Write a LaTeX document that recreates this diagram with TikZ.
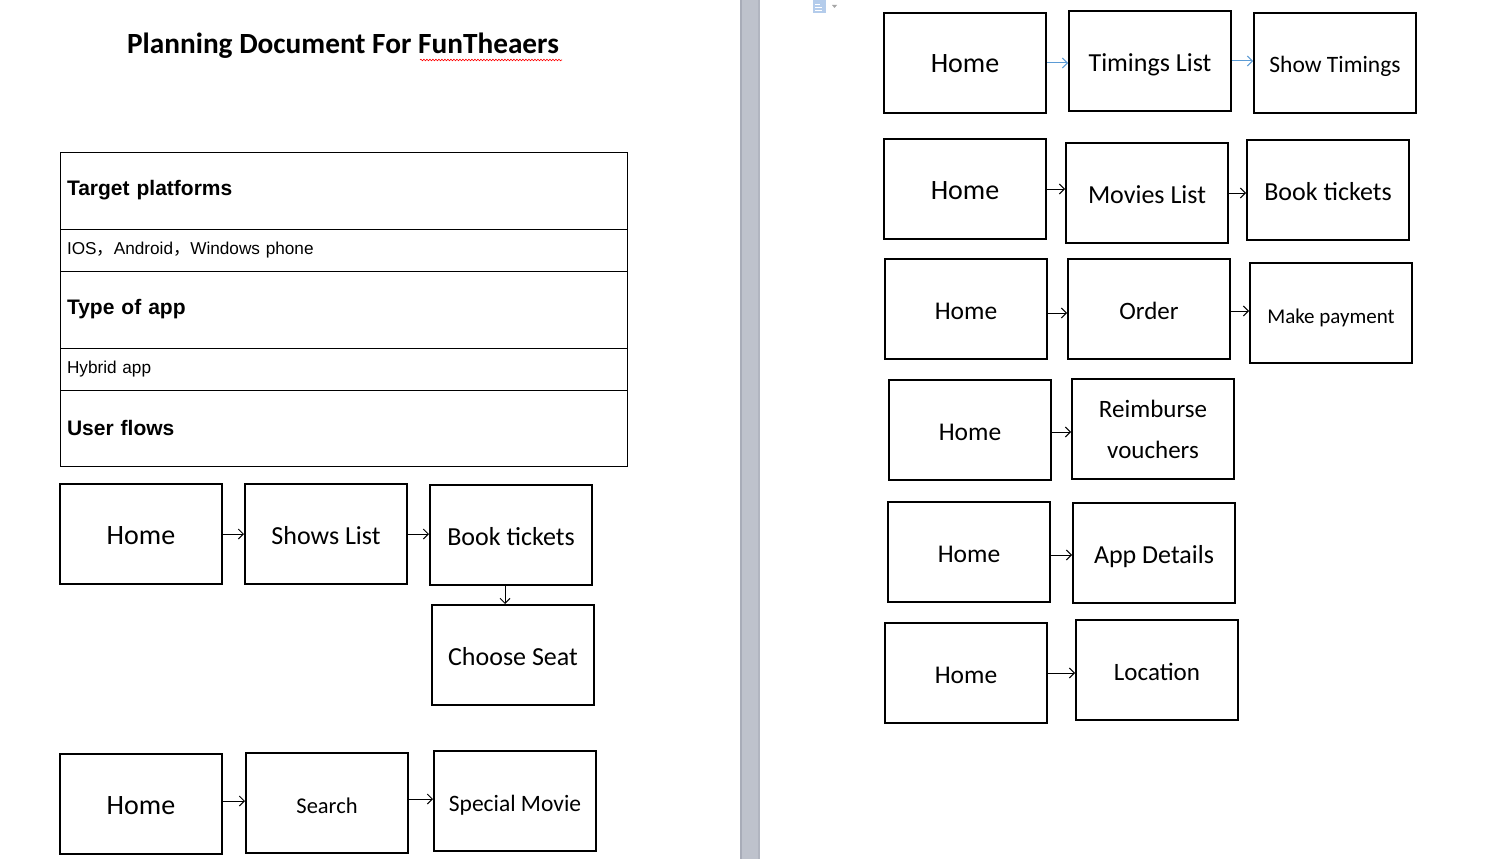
\documentclass[tikz,border=0pt]{standalone}
\usepackage{fontspec}
\setmainfont{Carlito}
\newfontfamily\arialf{Liberation Sans}
\newfontfamily\cjkf{Noto Sans CJK SC}
\usetikzlibrary{arrows.meta,decorations.pathmorphing}
\newcommand\fsz[1]{\fontsize{#1}{#1}\selectfont}
\definecolor{barcol}{RGB}{190,194,204}
\definecolor{bardark}{RGB}{168,172,184}
\definecolor{iconblue}{RGB}{180,204,235}
\definecolor{arrblue}{RGB}{91,155,213}
\tikzset{
  boxbase/.style={draw, line width=2pt, minimum width=162pt, minimum height=100pt, inner sep=0pt, font=\fsz{26}},
  box/.style={boxbase, text height=20pt, text depth=0pt},
  trow/.style={draw, line width=0.9pt, outer sep=0pt, minimum width=567pt, text width=553pt, inner xsep=7pt, inner ysep=0pt, align=left, anchor=north west},
  arr/.style={line width=1pt, -{Straight Barb[length=5pt,width=10pt]}},
  barr/.style={arr, arrblue}
}
\begin{document}
\begin{tikzpicture}[x=1pt,y=-1pt]
\useasboundingbox (0,0) rectangle (1492,859);
\fill[white] (0,0) rectangle (1492,859);
% page separator
\fill[barcol] (740,0) rectangle (760,859);
\fill[bardark] (740,0) rectangle (742,859);
\fill[bardark!60!barcol] (758,0) rectangle (760,859);
% small icon
\fill[iconblue] (813,0) rectangle (826,13);
\draw[white, line width=0.8pt] (815,4) -- (820,4) (815,7) -- (822,7) (815,10) -- (822,10);
\fill[gray!70] (832,5) -- (837,5) -- (834.5,8) -- cycle;

% title
\node[font=\fsz{29.3}\bfseries, anchor=base] (title) at (343,54) {Planning Document For FunTheaers};
\draw[red, line width=0.6pt, decorate, decoration={snake, amplitude=0.8pt, segment length=3pt}] (420,60) -- (562,60);

% table
\node[trow, minimum height=77pt, font=\arialf\fsz{21}\bfseries] (r1) at (60,152) {Target platforms};
\node[trow, minimum height=42pt, font=\arialf\fsz{17.2}] (r2) at (r1.south west) {IOS{\cjkf ，}Android{\cjkf ，}Windows phone};
\node[trow, minimum height=77pt, font=\arialf\fsz{21}\bfseries] (r3) at (r2.south west) {Type of app};
\node[trow, minimum height=42pt, font=\arialf\fsz{17.2}] (r4) at (r3.south west) {Hybrid app};
\node[trow, minimum height=76pt, font=\arialf\fsz{21}\bfseries] (r5) at (r4.south west) {User flows};

% left flows
\node[box, font=\fsz{28}] (h1) at (141,534) {Home};
\node[box] (shows) at (326,534) {Shows List};
\node[box] (book1) at (511,535) {Book tickets};
\node[box] (seat) at (513,655) {Choose Seat};
\node[box, font=\fsz{28}] (h2) at (141,804) {Home};
\node[box, font=\fsz{22.5}] (search) at (327,803) {Search};
\node[box, font=\fsz{23.5}] (special) at (515,801) {Special Movie};

\draw[arr] (h1.east) -- (h1.east -| shows.west);
\draw[arr] (shows.east) -- (shows.east -| book1.west);
\draw[arr] (book1.south -| 505,0) -- (seat.north -| 505,0);
\draw[arr] ([yshift=3pt]h2.east) -- ([yshift=3pt]h2.east -| search.west);
\draw[arr] ([yshift=4pt]search.east) -- ([yshift=4pt]search.east -| special.west);

% right flows
\node[box, font=\fsz{28}] (rh1) at (965,63) {Home};
\node[box] (timings) at (1150,61) {Timings List};
\node[box, font=\fsz{23.5}] (showt) at (1335,63) {Show Timings};
\draw[barr] (rh1.east) -- (rh1.east -| timings.west);
\draw[barr] (timings.east) -- (timings.east -| showt.west);

\node[box, font=\fsz{28}] (rh2) at (965,189) {Home};
\node[box] (movies) at (1147,193) {Movies List};
\node[box] (book2) at (1328,190) {Book tickets};
\draw[arr] (rh2.east) -- (rh2.east -| movies.west);
\draw[arr] (movies.east) -- (movies.east -| book2.west);

\node[box, font=\fsz{25.5}] (rh3) at (966,309) {Home};
\node[box, font=\fsz{25}] (order) at (1149,309) {Order};
\node[box, font=\fsz{21}] (pay) at (1331,313) {Make payment};
\draw[arr] ([yshift=-4pt]rh3.east) -- ([yshift=-4pt]rh3.east -| order.west);
\draw[arr] ([yshift=-2pt]order.east) -- ([yshift=-2pt]order.east -| pay.west);

\node[box, font=\fsz{25.5}] (rh4) at (970,430) {Home};
\node[boxbase, font=\fontsize{25}{41}\selectfont, align=center] (reimb) at (1153,429) {Reimburse\\vouchers};
\draw[arr] ([yshift=-2pt]rh4.east) -- ([yshift=-2pt]rh4.east -| reimb.west);

\node[box, font=\fsz{25.5}] (rh5) at (969,552) {Home};
\node[box] (appd) at (1154,553) {App Details};
\draw[arr] ([yshift=-3pt]rh5.east) -- ([yshift=-3pt]rh5.east -| appd.west);

\node[box, font=\fsz{25.5}] (rh6) at (966,673) {Home};
\node[box, font=\fsz{25}] (loc) at (1157,670) {Location};
\draw[arr] (rh6.east) -- (rh6.east -| loc.west);
\end{tikzpicture}
\end{document}
